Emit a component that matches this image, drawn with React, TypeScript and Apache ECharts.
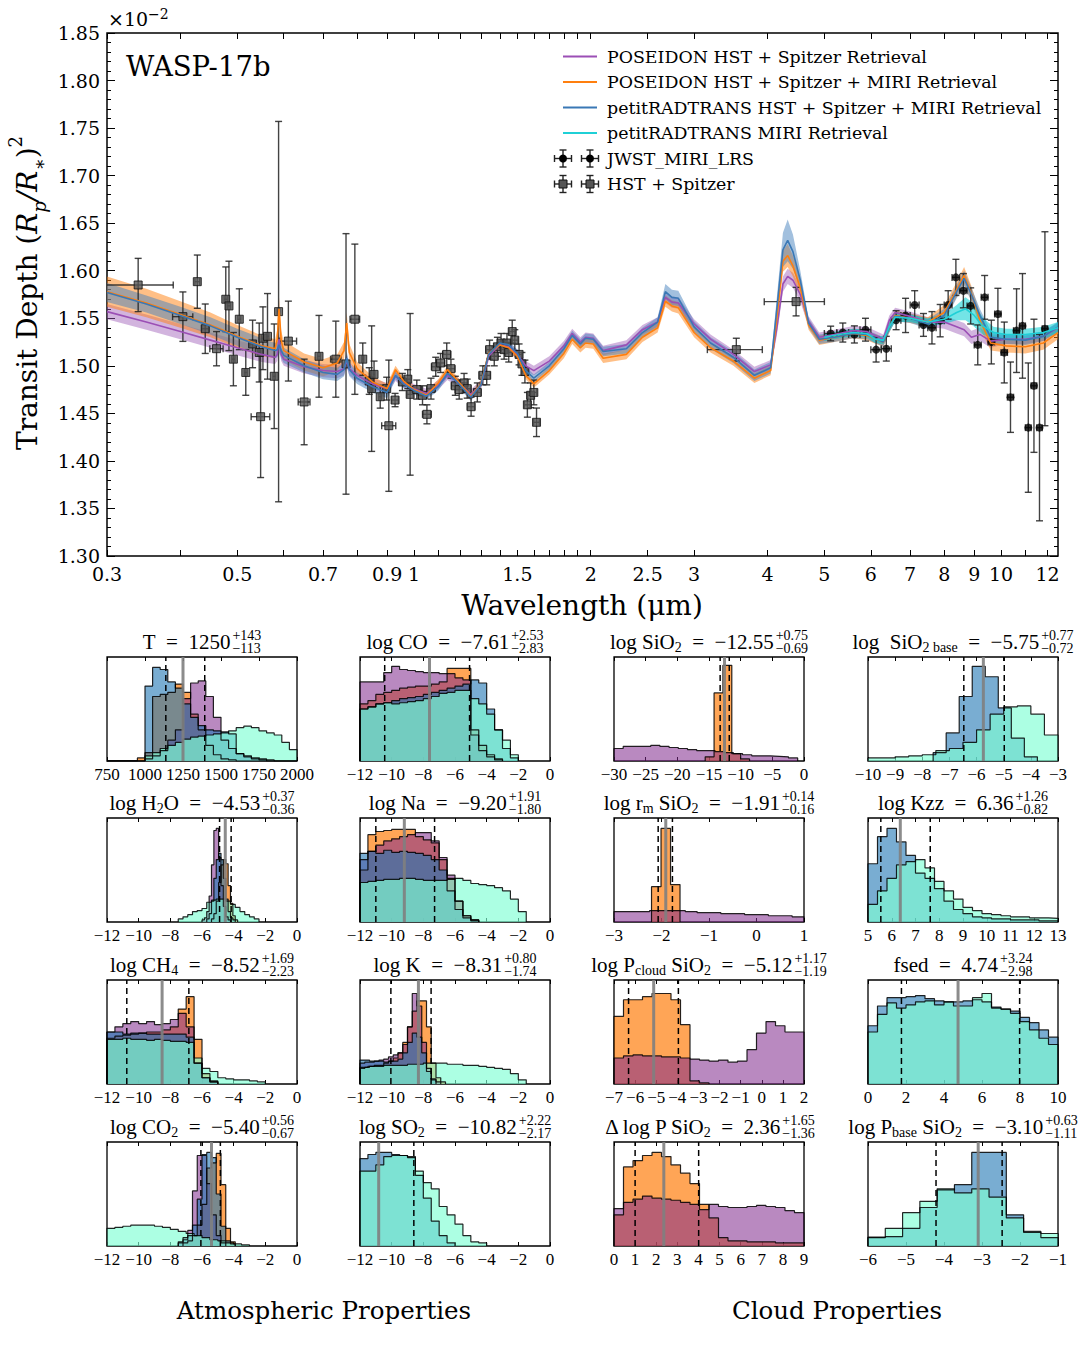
import React, { useEffect, useRef } from 'react';
import * as echarts from 'echarts';

const SERIF = 'DejaVu Serif';
const CM = 'Liberation Serif';

// ---------------- spectrum models (wavelength in micron, transit depth x1e-2) ----------------
const wl = [0.30,0.35,0.40,0.45,0.50,0.55,0.58,0.585,0.589,0.594,0.60,0.65,0.70,0.74,0.76,0.768,0.776,0.80,0.85,0.90,0.93,0.96,1.00,1.05,1.10,1.14,1.18,1.25,1.30,1.34,1.40,1.45,1.50,1.55,1.60,1.70,1.80,1.86,1.92,1.96,2.02,2.10,2.30,2.45,2.60,2.68,2.75,2.82,3.00,3.20,3.50,3.80,4.05,4.15,4.25,4.33,4.42,4.55,4.70,4.90,5.20,5.60,5.90,6.30,6.45,6.60,7.00,7.50,8.00,8.40,8.65,8.90,9.20,9.60,10.2,11.0,11.8,12.5];
const blueMed = [1.577,1.565,1.553,1.542,1.530,1.520,1.516,1.517,1.522,1.516,1.511,1.500,1.493,1.491,1.496,1.508,1.496,1.487,1.478,1.472,1.490,1.481,1.474,1.468,1.478,1.492,1.484,1.467,1.480,1.512,1.524,1.522,1.513,1.495,1.487,1.500,1.518,1.532,1.523,1.529,1.528,1.515,1.518,1.535,1.546,1.578,1.572,1.571,1.541,1.524,1.509,1.490,1.498,1.560,1.622,1.632,1.620,1.590,1.545,1.528,1.530,1.534,1.533,1.525,1.540,1.552,1.550,1.544,1.553,1.578,1.592,1.575,1.553,1.530,1.528,1.527,1.531,1.541];
const orangeMed = [1.578,1.566,1.554,1.543,1.531,1.521,1.518,1.528,1.560,1.527,1.516,1.504,1.498,1.503,1.516,1.545,1.514,1.497,1.483,1.476,1.496,1.484,1.475,1.469,1.482,1.496,1.486,1.468,1.481,1.513,1.522,1.519,1.510,1.490,1.481,1.495,1.513,1.528,1.519,1.524,1.523,1.508,1.512,1.530,1.540,1.568,1.563,1.561,1.535,1.519,1.505,1.487,1.495,1.550,1.610,1.616,1.605,1.582,1.543,1.527,1.530,1.534,1.532,1.525,1.540,1.553,1.550,1.546,1.556,1.580,1.595,1.576,1.548,1.524,1.521,1.520,1.524,1.535];
const purpleMed = [1.557,1.546,1.536,1.527,1.519,1.512,1.509,1.512,1.528,1.512,1.507,1.499,1.495,1.494,1.497,1.505,1.497,1.490,1.481,1.476,1.489,1.482,1.476,1.471,1.480,1.490,1.484,1.470,1.480,1.510,1.522,1.520,1.512,1.500,1.495,1.505,1.521,1.534,1.525,1.530,1.529,1.516,1.522,1.538,1.546,1.572,1.567,1.566,1.544,1.528,1.512,1.494,1.501,1.540,1.586,1.594,1.590,1.575,1.547,1.530,1.533,1.537,1.536,1.528,1.548,1.556,1.552,1.546,1.546,1.541,1.538,1.530,1.533,1.526,1.528,1.528,1.531,1.540];
const purpleErr = [.008,.008,.008,.008,.008,.008,.007,.007,.007,.007,.007,.007,.007,.007,.007,.007,.007,.006,.006,.006,.005,.005,.005,.005,.005,.005,.005,.005,.005,.005,.005,.005,.005,.005,.005,.005,.005,.005,.005,.005,.005,.005,.005,.005,.005,.006,.006,.006,.005,.005,.005,.005,.005,.008,.008,.008,.008,.008,.005,.005,.005,.005,.005,.005,.005,.005,.005,.005,.007,.007,.007,.007,.007,.007,.005,.005,.005,.005];
const orangeErr = [.016,.015,.014,.013,.012,.011,.010,.010,.012,.010,.010,.009,.009,.009,.009,.011,.009,.007,.006,.005,.004,.004,.004,.004,.004,.004,.004,.004,.004,.004,.004,.004,.004,.004,.004,.004,.005,.005,.005,.005,.005,.005,.005,.005,.005,.006,.006,.006,.005,.005,.005,.005,.005,.009,.011,.012,.011,.009,.005,.005,.005,.005,.005,.005,.005,.005,.005,.005,.008,.008,.009,.008,.008,.008,.007,.007,.007,.007];
const blueErr = [.010,.009,.009,.009,.009,.009,.008,.008,.008,.008,.008,.007,.007,.007,.007,.007,.007,.006,.006,.006,.004,.004,.004,.004,.004,.004,.004,.004,.004,.004,.004,.004,.004,.004,.004,.004,.005,.005,.005,.005,.005,.005,.005,.005,.005,.008,.008,.008,.006,.006,.006,.006,.006,.012,.018,.022,.018,.010,.005,.005,.005,.005,.005,.005,.005,.005,.005,.005,.007,.007,.008,.007,.007,.007,.005,.005,.005,.005];
const wlMiri = [5.0,5.3,5.6,5.9,6.1,6.3,6.45,6.6,7.0,7.5,8.0,8.4,8.7,9.0,9.3,9.7,10.2,11.0,11.8,12.5];
const cyanMed = [1.530,1.533,1.535,1.534,1.528,1.527,1.541,1.551,1.550,1.546,1.549,1.556,1.560,1.553,1.542,1.535,1.533,1.533,1.535,1.540];
const cyanErr = [0.004,0.004,0.004,0.004,0.004,0.004,0.005,0.005,0.004,0.004,0.005,0.008,0.012,0.012,0.009,0.006,0.006,0.006,0.006,0.006];

// ---------------- observations ----------------
const hstWl = [0.339,0.404,0.4275,0.441,0.461,0.478,0.484,0.4925,0.504,0.517,0.531,0.545,0.548,0.553,0.563,0.578,0.588,0.611,0.650,0.689,0.736,0.766,0.793,0.818,0.839,0.847,0.855,0.876,0.8985,0.906,0.9285,0.9555,0.976,0.985,1.011,1.034,1.052,1.069,1.089,1.110,1.137,1.156,1.176,1.194,1.217,1.232,1.251,1.282,1.310,1.330,1.345,1.370,1.387,1.407,1.424,1.440,1.450,1.470,1.485,1.510,1.527,1.545,1.560,1.580,1.600,1.617,3.54,4.475];
const hstDepth = [1.585,1.5517,1.5885,1.539,1.518,1.570,1.563,1.507,1.549,1.493,1.523,1.514,1.4465,1.529,1.531,1.489,1.557,1.526,1.462,1.510,1.507,1.502,1.549,1.507,1.484,1.476,1.491,1.4675,1.476,1.437,1.464,1.483,1.486,1.470,1.475,1.469,1.449,1.476,1.499,1.503,1.512,1.497,1.479,1.475,1.482,1.476,1.457,1.472,1.490,1.490,1.517,1.510,1.520,1.524,1.517,1.524,1.514,1.536,1.527,1.512,1.502,1.494,1.459,1.469,1.472,1.4406,1.517,1.5675];
const hstErr = [0.028,0.026,0.028,0.026,0.018,0.034,0.047,0.028,0.032,0.024,0.025,0.031,0.064,0.033,0.045,0.055,0.200,0.042,0.045,0.043,0.040,0.137,0.079,0.017,0.014,0.066,0.014,0.012,0.012,0.069,0.007,0.009,0.010,0.085,0.010,0.010,0.010,0.011,0.010,0.010,0.012,0.010,0.010,0.010,0.010,0.010,0.010,0.010,0.010,0.010,0.010,0.010,0.010,0.010,0.010,0.010,0.010,0.012,0.011,0.011,0.012,0.012,0.013,0.013,0.013,0.015,0.012,0.015];
const hstWlErr = [0.05,0.016,0.004,0.006,0.012,0.003,0.003,0.003,0.003,0.003,0.006,0.003,0.02,0.003,0.003,0.003,0.003,0.02,0.015,0.004,0.015,0.003,0.015,0.003,0.004,0.003,0.003,0.005,0.004,0.025,0.012,0.012,0.012,0.012,0.018,0.018,0.018,0.018,0.018,0.018,0.018,0.018,0.018,0.018,0.018,0.018,0.018,0.018,0.018,0.018,0.018,0.018,0.018,0.018,0.018,0.018,0.018,0.018,0.018,0.018,0.018,0.018,0.018,0.018,0.018,0.018,0.38,0.525];
const miriWl = [5.125,5.375,5.625,5.875,6.125,6.375,6.625,6.875,7.125,7.375,7.625,7.875,8.125,8.375,8.625,8.875,9.125,9.375,9.625,9.875,10.125,10.375,10.625,10.875,11.125,11.375,11.625,11.875];
const miriDepth = [1.534,1.535,1.533,1.538,1.517,1.518,1.548,1.553,1.564,1.543,1.540,1.5475,1.564,1.593,1.579,1.563,1.522,1.572,1.525,1.5545,1.514,1.467,1.537,1.542,1.435,1.479,1.435,1.539];
const miriErr = [0.0077,0.010,0.009,0.012,0.013,0.013,0.010,0.018,0.015,0.012,0.017,0.017,0.015,0.019,0.018,0.019,0.021,0.023,0.023,0.027,0.032,0.037,0.044,0.055,0.068,0.070,0.098,0.102];
const miriWlErr = [0.125,0.125,0.125,0.125,0.125,0.125,0.125,0.125,0.125,0.125,0.125,0.125,0.125,0.125,0.125,0.125,0.125,0.125,0.125,0.125,0.125,0.125,0.125,0.125,0.125,0.125,0.125,0.125];

// ---------------- axis tick values ----------------
const xLabelVals = [0.3,0.5,0.7,0.9,1,1.5,2,2.5,3,4,5,6,7,8,9,10,12];
const xTickVals = [0.3,0.4,0.5,0.6,0.7,0.8,0.9,1,1.1,1.2,1.3,1.4,1.5,1.6,1.7,1.8,1.9,2,2.5,3,4,5,6,7,8,9,10,11,12];

// ---------------- posterior panels ----------------
const panelLabels = ['{m|T}','{m|log CO}','{m|log SiO}{s|2}','{m|log  SiO}{s|2 base}','{m|log H}{s|2}{m|O}','{m|log Na}','{m|log r}{s|m}{m| SiO}{s|2}','{m|log Kzz}','{m|log CH}{s|4}','{m|log K}','{m|log P}{s|cloud}{m| SiO}{s|2}','{m|fsed}','{m|log CO}{s|2}','{m|log SO}{s|2}','{m|Δ log P SiO}{s|2}','{m|log P}{s|base}{m| SiO}{s|2}'];
const medians = [1250,-7.61,-12.55,-5.75,-4.53,-9.20,-1.91,6.36,-8.52,-8.31,-5.12,4.74,-5.40,-10.82,2.36,-3.10];
const plusErr = [143,2.53,0.75,0.77,0.37,1.91,0.14,1.26,1.69,0.80,1.17,3.24,0.56,2.22,1.65,0.63];
const minusErr = [113,2.83,0.69,0.72,0.36,1.80,0.16,0.82,2.23,1.74,1.19,2.98,0.67,2.17,1.36,1.11];
const xMins = [750,-12,-30,-10,-12,-12,-3,5,-12,-12,-7,0,-12,-12,0,-6];
const xMaxs = [2000,0,0,-3,0,0,1,13,0,0,2,10,0,0,9,-1];
const xSteps = [250,2,5,1,2,2,1,1,2,2,1,2,2,2,1,1];

const T_orange = { x0: 750, dx: 50, h: [0,0,0,0,0.03,0.08,0.62,0.64,0.66,0.74,0.66,0.45,0.3,0.15,0.06,0.02,0.01,0,0,0,0,0,0,0,0] };
const T_purple = { x0: 750, dx: 50, h: [0,0,0,0,0,0.02,0.05,0.1,0.2,0.3,0.6,0.75,0.77,0.62,0.42,0.2,0.12,0.07,0.04,0.02,0.01,0,0,0,0] };
const T_blue = { x0: 750, dx: 50, h: [0,0,0,0,0,0.72,0.9,0.88,0.76,0.7,0.55,0.42,0.34,0.3,0.29,0.28,0.26,0.07,0.05,0.03,0.02,0.01,0,0,0] };
const T_aqua = { x0: 750, dx: 50, h: [0,0,0,0,0,0.05,0.08,0.12,0.15,0.18,0.21,0.23,0.24,0.25,0.26,0.27,0.29,0.32,0.335,0.32,0.29,0.27,0.25,0.18,0.11] };
const CO_orange = { x0: -12, dx: 0.5, h: [0.55,0.58,0.64,0.66,0.68,0.7,0.71,0.72,0.72,0.74,0.76,0.89,0.89,0.89,0.3,0.15,0.06,0.02] };
const CO_purple = { x0: -12, dx: 0.5, h: [0.76,0.76,0.76,0.85,0.91,0.88,0.87,0.86,0.85,0.85,0.84,0.84,0.8,0.78,0.25,0.1,0.04,0.01] };
const CO_blue = { x0: -12, dx: 0.5, h: [0.5,0.52,0.55,0.56,0.58,0.6,0.61,0.62,0.64,0.66,0.68,0.7,0.72,0.74,0.78,0.75,0.5,0.3,0.12,0.03] };
const CO_aqua = { x0: -12, dx: 0.5, h: [0.5,0.52,0.55,0.56,0.55,0.56,0.57,0.58,0.6,0.62,0.65,0.66,0.68,0.68,0.6,0.55,0.45,0.3,0.2,0.06] };
const SiO2_purple = { x0: -30, dx: 1.45, h: [0.12,0.14,0.14,0.14,0.15,0.14,0.13,0.12,0.11,0.1,0.1,0.09,0.08,0.07,0.06,0.05,0.05,0.045,0.04,0.03] };
const SiO2_orange = { x0: -15.6, dx: 1.4, h: [0.04,0.655,0.92,0.07,0.02] };
const SiO2b_blue = { x0: -7.6, dx: 0.48, h: [0.08,0.27,0.62,0.91,0.81,0.51,0.22,0.04] };
const SiO2b_aqua = { x0: -10, dx: 0.5, h: [0.03,0.03,0.04,0.05,0.06,0.1,0.12,0.18,0.3,0.45,0.52,0.53,0.45,0.25] };
const H2O_purple = { x0: -6.0, dx: 0.15, h: [0.02,0.04,0.1,0.25,0.55,0.88,0.9,0.62,0.35,0.15,0.05,0.02] };
const H2O_orange = { x0: -5.4, dx: 0.15, h: [0.03,0.08,0.2,0.38,0.55,0.6,0.56,0.35,0.18,0.06,0.02] };
const H2O_blue = { x0: -5.7, dx: 0.15, h: [0.03,0.08,0.2,0.42,0.6,0.66,0.6,0.42,0.22,0.1,0.04,0.02] };
const H2O_aqua = { x0: -7.5, dx: 0.3, h: [0.03,0.05,0.07,0.1,0.11,0.13,0.19,0.21,0.22,0.22,0.2,0.17,0.14,0.1,0.07,0.05,0.03] };
const Na_orange = { x0: -12, dx: 0.5, h: [0.5,0.84,0.87,0.88,0.89,0.89,0.89,0.82,0.79,0.76,0.6,0.42,0.2,0.06,0.02] };
const Na_purple = { x0: -12, dx: 0.5, h: [0.6,0.68,0.74,0.78,0.8,0.82,0.84,0.86,0.86,0.78,0.62,0.45,0.2,0.06,0.02] };
const Na_blue = { x0: -12, dx: 0.5, h: [0.66,0.68,0.66,0.69,0.67,0.68,0.67,0.66,0.64,0.6,0.5,0.3,0.12,0.04,0.01] };
const Na_aqua = { x0: -12, dx: 0.5, h: [0.38,0.39,0.4,0.41,0.41,0.42,0.42,0.41,0.4,0.4,0.4,0.41,0.42,0.4,0.37,0.36,0.35,0.33,0.3,0.22,0.1] };
const rm_purple = { x0: -3, dx: 0.25, h: [0.1,0.1,0.1,0.11,0.11,0.11,0.1,0.09,0.09,0.08,0.08,0.07,0.07,0.06,0.06,0.05] };
const rm_orange = { x0: -2.21, dx: 0.2, h: [0.34,0.9,0.36] };
const Kzz_blue = { x0: 5, dx: 0.4, h: [0.56,0.82,0.9,0.77,0.64,0.47,0.42,0.32,0.2,0.12,0.08,0.05,0.04,0.03,0.03,0.02,0.02,0.02,0.01,0.01] };
const Kzz_aqua = { x0: 5, dx: 0.4, h: [0.17,0.3,0.42,0.55,0.58,0.6,0.52,0.39,0.3,0.22,0.14,0.11,0.08,0.07,0.06,0.05,0.05,0.04,0.04,0.035] };
const CH4_orange = { x0: -12, dx: 0.5, h: [0.44,0.46,0.47,0.48,0.49,0.5,0.5,0.52,0.55,0.72,0.84,0.43,0.1,0.03] };
const CH4_purple = { x0: -12, dx: 0.5, h: [0.5,0.55,0.58,0.6,0.58,0.6,0.57,0.58,0.62,0.68,0.55,0.2,0.06,0.02] };
const CH4_blue = { x0: -12, dx: 0.5, h: [0.5,0.5,0.48,0.49,0.49,0.48,0.48,0.48,0.48,0.48,0.45,0.2,0.06,0.02] };
const CH4_aqua = { x0: -12, dx: 0.5, h: [0.43,0.43,0.44,0.43,0.43,0.42,0.43,0.42,0.41,0.41,0.4,0.25,0.15,0.12,0.06,0.05,0.04,0.04,0.03,0.02] };
const K_purple = { x0: -12, dx: 0.3, h: [0.2,0.21,0.21,0.22,0.23,0.24,0.26,0.28,0.3,0.38,0.55,0.87,0.75,0.4,0.15,0.05,0.02] };
const K_orange = { x0: -12, dx: 0.3, h: [0.15,0.16,0.17,0.18,0.18,0.2,0.22,0.25,0.3,0.4,0.55,0.7,0.8,0.8,0.55,0.2,0.06,0.02] };
const K_blue = { x0: -12, dx: 0.3, h: [0.23,0.23,0.22,0.22,0.22,0.21,0.22,0.22,0.24,0.3,0.4,0.49,0.45,0.3,0.12,0.04] };
const K_aqua = { x0: -12, dx: 0.5, h: [0.16,0.17,0.17,0.18,0.18,0.18,0.19,0.19,0.2,0.2,0.2,0.19,0.19,0.18,0.18,0.17,0.16,0.15,0.14,0.1,0.04] };
const Pc_orange = { x0: -7, dx: 0.45, h: [0.65,0.81,0.81,0.84,0.87,0.87,0.81,0.57,0.03,0.01] };
const Pc_purple = { x0: -7, dx: 0.45, h: [0.25,0.27,0.28,0.27,0.27,0.26,0.26,0.25,0.24,0.23,0.22,0.23,0.21,0.22,0.33,0.49,0.6,0.56,0.5,0.5] };
const fs_blue = { x0: 0, dx: 0.5, h: [0.56,0.75,0.83,0.83,0.84,0.85,0.82,0.8,0.79,0.79,0.8,0.81,0.79,0.74,0.72,0.7,0.64,0.59,0.52,0.45] };
const fs_aqua = { x0: 0, dx: 0.5, h: [0.5,0.67,0.78,0.73,0.76,0.79,0.8,0.76,0.79,0.75,0.75,0.83,0.87,0.73,0.72,0.68,0.6,0.52,0.44,0.38] };
const CO2_purple = { x0: -7.5, dx: 0.3, h: [0.04,0.08,0.15,0.53,0.87,0.87,0.6,0.3,0.1,0.03] };
const CO2_orange = { x0: -7.2, dx: 0.3, h: [0.03,0.05,0.1,0.2,0.4,0.75,0.8,0.89,0.59,0.17,0.04] };
const CO2_blue = { x0: -7.5, dx: 0.3, h: [0.03,0.06,0.1,0.2,0.45,0.88,0.9,0.85,0.5,0.19,0.05,0.02] };
const CO2_aqua = { x0: -12, dx: 0.5, h: [0.17,0.18,0.19,0.2,0.2,0.2,0.19,0.18,0.16,0.14,0.12,0.1,0.08,0.06,0.05,0.03,0.02,0.01] };
const SO2_blue = { x0: -12, dx: 0.5, h: [0.84,0.88,0.9,0.9,0.88,0.87,0.85,0.68,0.46,0.24,0.1,0.03] };
const SO2_aqua = { x0: -12, dx: 0.5, h: [0.72,0.72,0.78,0.86,0.87,0.87,0.86,0.72,0.61,0.55,0.38,0.3,0.21,0.1,0.04,0.03] };
const dP_orange = { x0: 0, dx: 0.45, h: [0.3,0.76,0.82,0.87,0.9,0.86,0.78,0.7,0.6,0.4,0.27,0.08,0.05,0.05,0.04,0.04,0.04,0.03,0.03,0.03] };
const dP_purple = { x0: 0, dx: 0.45, h: [0.36,0.42,0.45,0.48,0.46,0.45,0.44,0.42,0.4,0.35,0.4,0.38,0.37,0.37,0.38,0.39,0.38,0.37,0.34,0.32] };
const Pb_blue = { x0: -6, dx: 0.455, h: [0.08,0.09,0.17,0.37,0.54,0.59,0.9,0.9,0.3,0.13,0.08] };
const Pb_aqua = { x0: -6, dx: 0.455, h: [0.085,0.17,0.32,0.43,0.55,0.51,0.55,0.47,0.27,0.14,0.12] };

const panelHists: any[] = [
  [[T_orange,'O'],[T_purple,'P'],[T_blue,'B'],[T_aqua,'A']],
  [[CO_orange,'O'],[CO_purple,'P'],[CO_blue,'B'],[CO_aqua,'A']],
  [[SiO2_orange,'O'],[SiO2_purple,'P']],
  [[SiO2b_blue,'B'],[SiO2b_aqua,'A']],
  [[H2O_orange,'O'],[H2O_purple,'P'],[H2O_blue,'B'],[H2O_aqua,'A']],
  [[Na_orange,'O'],[Na_purple,'P'],[Na_blue,'B'],[Na_aqua,'A']],
  [[rm_orange,'O'],[rm_purple,'P']],
  [[Kzz_blue,'B'],[Kzz_aqua,'A']],
  [[CH4_orange,'O'],[CH4_purple,'P'],[CH4_blue,'B'],[CH4_aqua,'A']],
  [[K_orange,'O'],[K_purple,'P'],[K_blue,'B'],[K_aqua,'A']],
  [[Pc_orange,'O'],[Pc_purple,'P']],
  [[fs_blue,'B'],[fs_aqua,'A']],
  [[CO2_orange,'O'],[CO2_purple,'P'],[CO2_blue,'B'],[CO2_aqua,'A']],
  [[SO2_blue,'B'],[SO2_aqua,'A']],
  [[dP_orange,'O'],[dP_purple,'P']],
  [[Pb_blue,'B'],[Pb_aqua,'A']],
];

// ---------------- styling / layout ----------------
const HCOL: any = { P: 'rgba(128,40,140,0.55)', O: 'rgba(255,127,14,0.7)', B: 'rgba(31,119,180,0.6)', A: 'rgba(127,255,212,0.65)' };
const colLeft = [107, 360, 614, 868];
const rowTop = [657, 818, 980, 1142];
const boxW = 190;
const boxH = 104;
const LINE_COL = { P: '#9b4fb5', O: '#ff7f0e', B: '#3a78b5', C: '#1fd0d6' };
const BAND_COL = { P: 'rgba(155,89,182,0.45)', O: 'rgba(255,127,14,0.5)', B: 'rgba(70,130,190,0.5)', C: 'rgba(0,206,209,0.55)' };

const lg = (v: number) => Math.log10(v);
const minus = (s: string) => s.replace('-', '\u2212');
const fmtTick = (v: number) => minus(String(Number(v.toFixed(6))));

function bandSeries(w: number[], med: number[], err: number[], color: string) {
  const data = w.map((x, i) => [lg(x), med[i] - err[i], med[i] + err[i]]);
  return {
    type: 'custom', xAxisIndex: 0, yAxisIndex: 0, silent: true, clip: true, data,
    encode: { x: 0, y: [1, 2] },
    renderItem: (params: any, api: any) => {
      if (params.dataIndex !== 0) return null;
      const top = data.map((d) => api.coord([d[0], d[2]]));
      const bot = data.map((d) => api.coord([d[0], d[1]])).reverse();
      return { type: 'polygon', shape: { points: top.concat(bot) }, style: { fill: color } };
    },
  };
}
function medSeries(w: number[], med: number[], color: string) {
  return {
    type: 'line', xAxisIndex: 0, yAxisIndex: 0, silent: true, symbol: 'none', showSymbol: false,
    data: w.map((x, i) => [lg(x), med[i]]), lineStyle: { color, width: 1.6 },
  };
}
function errSeries(w: number[], d: number[], e: number[], we: number[]) {
  const data = w.map((x, i) => [lg(x), d[i], lg(Math.max(x - we[i], 0.2)), lg(x + we[i]), d[i] - e[i], d[i] + e[i]]);
  return {
    type: 'custom', xAxisIndex: 0, yAxisIndex: 0, silent: true, clip: true, data,
    encode: { x: [0, 2, 3], y: [1, 4, 5] },
    renderItem: (params: any, api: any) => {
      const x = api.value(0), y = api.value(1);
      const pl = api.coord([api.value(2), y]), pr = api.coord([api.value(3), y]);
      const pb = api.coord([x, api.value(4)]), pt = api.coord([x, api.value(5)]);
      const c = 3.5;
      const st = { stroke: '#222', lineWidth: 1.4, opacity: 0.85 };
      const L = (x1: number, y1: number, x2: number, y2: number) => ({ type: 'line', shape: { x1, y1, x2, y2 }, style: st });
      return {
        type: 'group',
        children: [
          L(pb[0], pb[1], pt[0], pt[1]), L(pb[0] - c, pb[1], pb[0] + c, pb[1]), L(pt[0] - c, pt[1], pt[0] + c, pt[1]),
          L(pl[0], pl[1], pr[0], pr[1]), L(pl[0], pl[1] - c, pl[0], pl[1] + c), L(pr[0], pr[1] - c, pr[0], pr[1] + c),
        ],
      };
    },
  };
}
function histSeries(hd: any, key: string, k: number) {
  const pts: number[][] = [[hd.x0, 0]];
  hd.h.forEach((v: number, i: number) => pts.push([hd.x0 + i * hd.dx, v]));
  const xe = hd.x0 + hd.h.length * hd.dx;
  pts.push([xe, hd.h[hd.h.length - 1]], [xe, 0]);
  return {
    type: 'line', xAxisIndex: 2 + 2 * k, yAxisIndex: 2 + k, data: pts, step: 'end', symbol: 'none', showSymbol: false,
    clip: true, silent: true, lineStyle: { color: '#000', width: 1.2, opacity: 0.85 }, areaStyle: { color: HCOL[key], opacity: 1 },
  };
}
function vSeries(x: number, k: number, lineStyle: any) {
  return { type: 'line', xAxisIndex: 2 + 2 * k, yAxisIndex: 2 + k, data: [[x, 0], [x, 1]], symbol: 'none', showSymbol: false, silent: true, clip: true, lineStyle };
}

const titleRich = {
  m: { fontFamily: CM, fontSize: 21, lineHeight: 26, verticalAlign: 'middle', fill: '#000' },
  s: { fontFamily: CM, fontSize: 14, lineHeight: 14, verticalAlign: 'bottom', fill: '#000' },
};
function measure(style: any) {
  const t = new (echarts.graphic as any).Text({ style });
  return t.getBoundingRect().width;
}

function buildOption() {
  const grids: any[] = [{ left: 107, top: 33, width: 951, height: 523, show: true, borderColor: '#000', borderWidth: 1.5 }];
  const xAxes: any[] = [
    {
      type: 'value', gridIndex: 0, position: 'bottom', min: lg(0.3), max: lg(12.5),
      axisLine: { show: false, onZero: false }, splitLine: { show: false },
      axisTick: { inside: true, length: 6, customValues: xTickVals.map(lg), lineStyle: { color: '#000' } },
      axisLabel: { customValues: xLabelVals.map(lg), formatter: (v: number) => String(parseFloat(Math.pow(10, v).toFixed(2))), fontFamily: SERIF, fontSize: 19, color: '#000', margin: 8 },
    },
    {
      type: 'value', gridIndex: 0, position: 'top', min: lg(0.3), max: lg(12.5),
      axisLine: { show: false, onZero: false }, splitLine: { show: false }, axisLabel: { show: false },
      axisTick: { inside: true, length: 6, customValues: xTickVals.map(lg), lineStyle: { color: '#000' } },
    },
  ];
  const yBase = {
    type: 'value', gridIndex: 0, min: 1.3, max: 1.85, interval: 0.05,
    axisLine: { show: false, onZero: false }, splitLine: { show: false },
    axisTick: { inside: true, length: 8, lineStyle: { color: '#000' } },
    minorTick: { show: true, splitNumber: 5, length: 4, lineStyle: { color: '#000' } },
  };
  const yAxes: any[] = [
    { ...yBase, position: 'left', axisLabel: { formatter: (v: number) => v.toFixed(2), fontFamily: SERIF, fontSize: 19, color: '#000', margin: 7, showMinLabel: true, showMaxLabel: true } },
    { ...yBase, position: 'right', axisLabel: { show: false } },
  ];
  const series: any[] = [
    bandSeries(wl, purpleMed, purpleErr, BAND_COL.P),
    bandSeries(wl, orangeMed, orangeErr, BAND_COL.O),
    bandSeries(wl, blueMed, blueErr, BAND_COL.B),
    bandSeries(wlMiri, cyanMed, cyanErr, BAND_COL.C),
    medSeries(wl, purpleMed, LINE_COL.P),
    medSeries(wl, orangeMed, LINE_COL.O),
    medSeries(wl, blueMed, LINE_COL.B),
    medSeries(wlMiri, cyanMed, LINE_COL.C),
    errSeries(hstWl, hstDepth, hstErr, hstWlErr),
    {
      type: 'scatter', xAxisIndex: 0, yAxisIndex: 0, silent: true, symbol: 'rect', symbolSize: 8,
      data: hstWl.map((x, i) => [lg(x), hstDepth[i]]), itemStyle: { color: '#555', borderColor: '#111', borderWidth: 1 },
    },
    errSeries(miriWl, miriDepth, miriErr, miriWlErr),
    {
      type: 'scatter', xAxisIndex: 0, yAxisIndex: 0, silent: true, symbol: 'circle', symbolSize: 8,
      data: miriWl.map((x, i) => [lg(x), miriDepth[i]]), itemStyle: { color: '#000' },
    },
  ];
  const graphics: any[] = [];

  for (let k = 0; k < 16; k++) {
    const r = Math.floor(k / 4), c = k % 4;
    grids.push({ left: colLeft[c], top: rowTop[r], width: boxW, height: boxH, show: true, borderColor: '#000', borderWidth: 1.3 });
    const common = { type: 'value', gridIndex: k + 1, min: xMins[k], max: xMaxs[k], interval: xSteps[k], splitLine: { show: false }, axisLine: { show: false, onZero: false } };
    xAxes.push({
      ...common, position: 'bottom',
      axisTick: { inside: true, length: 4, lineStyle: { color: '#000' } },
      axisLabel: { formatter: fmtTick, fontFamily: CM, fontSize: 17, color: '#000', margin: 5, showMinLabel: true, showMaxLabel: true },
    });
    xAxes.push({ ...common, position: 'top', axisTick: { inside: true, length: 4, lineStyle: { color: '#000' } }, axisLabel: { show: false } });
    yAxes.push({ type: 'value', gridIndex: k + 1, min: 0, max: 1, show: false, axisLine: { onZero: false } });
    panelHists[k].forEach((p: any) => series.push(histSeries(p[0], p[1], k)));
    series.push(vSeries(medians[k], k, { color: '#808080', width: 3, opacity: 0.9 }));
    series.push(vSeries(medians[k] - minusErr[k], k, { color: '#000', width: 1.5, type: [6, 4] }));
    series.push(vSeries(medians[k] + plusErr[k], k, { color: '#000', width: 1.5, type: [6, 4] }));

    const dec = k === 0 ? 0 : 2;
    const main = panelLabels[k] + '{m|\u2002=\u2002' + minus(medians[k].toFixed(dec)) + '}';
    const scr = '+' + plusErr[k].toFixed(dec) + '\n\u2212' + minusErr[k].toFixed(dec);
    const mainStyle = { text: main, rich: titleRich, fontFamily: CM, fontSize: 21, fill: '#000', align: 'right', verticalAlign: 'middle' };
    const scrStyle = { text: scr, fontFamily: CM, fontSize: 14, lineHeight: 12.5, fill: '#000', align: 'left', verticalAlign: 'middle' };
    const mw = measure(mainStyle), sw = measure(scrStyle);
    const cx = colLeft[c] + boxW / 2;
    const ty = rowTop[r] - 15.5;
    const left = cx - (mw + 2 + sw) / 2;
    graphics.push({ type: 'text', x: left + mw, y: ty, style: mainStyle });
    graphics.push({ type: 'text', x: left + mw + 2, y: ty + 0.5, style: scrStyle });
  }

  // main-plot annotations
  graphics.push({ type: 'text', x: 126, y: 66, style: { text: 'WASP-17b', fontFamily: SERIF, fontSize: 27.5, fill: '#000', verticalAlign: 'middle' } });
  graphics.push({
    type: 'text', x: 108, y: 19,
    style: {
      text: '{a|\u00d710}{b|\u22122}', verticalAlign: 'middle', fill: '#000',
      rich: { a: { fontFamily: SERIF, fontSize: 19, lineHeight: 24, verticalAlign: 'middle' }, b: { fontFamily: SERIF, fontSize: 14, lineHeight: 14, verticalAlign: 'top' } },
    },
  });
  graphics.push({ type: 'text', x: 582, y: 605, style: { text: 'Wavelength (\u03bcm)', fontFamily: SERIF, fontSize: 28, fill: '#000', align: 'center', verticalAlign: 'middle' } });
  graphics.push({
    type: 'text', x: 27, y: 293, rotation: Math.PI / 2,
    style: {
      text: '{a|Transit Depth }{a|(}{i|R}{b|p}{i|/R}{b|\u2217}{a|)}{c|2}', align: 'center', verticalAlign: 'middle', fill: '#000',
      rich: {
        a: { fontFamily: SERIF, fontSize: 28, lineHeight: 42, verticalAlign: 'middle' },
        i: { fontFamily: SERIF, fontSize: 28, fontStyle: 'italic', lineHeight: 42, verticalAlign: 'middle' },
        b: { fontFamily: SERIF, fontSize: 18, fontStyle: 'italic', lineHeight: 23, verticalAlign: 'bottom' },
        c: { fontFamily: SERIF, fontSize: 18, lineHeight: 23, verticalAlign: 'top' },
      },
    },
  });
  graphics.push({ type: 'text', x: 324, y: 1310, style: { text: 'Atmospheric Properties', fontFamily: SERIF, fontSize: 24.5, fill: '#000', align: 'center', verticalAlign: 'middle' } });
  graphics.push({ type: 'text', x: 837, y: 1310, style: { text: 'Cloud Properties', fontFamily: SERIF, fontSize: 24.5, fill: '#000', align: 'center', verticalAlign: 'middle' } });

  // legend
  const legendNames = ['POSEIDON HST + Spitzer Retrieval', 'POSEIDON HST + Spitzer + MIRI Retrieval', 'petitRADTRANS HST + Spitzer + MIRI Retrieval', 'petitRADTRANS MIRI Retrieval', 'JWST_MIRI_LRS', 'HST + Spitzer'];
  const legendY = [56.5, 82, 107.5, 133, 158.5, 184];
  const legendLine = [LINE_COL.P, LINE_COL.O, LINE_COL.B, LINE_COL.C];
  legendNames.forEach((name, i) => {
    const y = legendY[i];
    if (i < 4) {
      graphics.push({ type: 'line', shape: { x1: 563, y1: y, x2: 597, y2: y }, style: { stroke: legendLine[i], lineWidth: 2 } });
    } else {
      [563, 590].forEach((mx) => {
        const st = { stroke: '#222', lineWidth: 1.4 };
        graphics.push({ type: 'line', shape: { x1: mx - 8.5, y1: y, x2: mx + 8.5, y2: y }, style: st });
        graphics.push({ type: 'line', shape: { x1: mx, y1: y - 8.5, x2: mx, y2: y + 8.5 }, style: st });
        graphics.push({ type: 'line', shape: { x1: mx - 8.5, y1: y - 3.5, x2: mx - 8.5, y2: y + 3.5 }, style: st });
        graphics.push({ type: 'line', shape: { x1: mx + 8.5, y1: y - 3.5, x2: mx + 8.5, y2: y + 3.5 }, style: st });
        graphics.push({ type: 'line', shape: { x1: mx - 3.5, y1: y - 8.5, x2: mx + 3.5, y2: y - 8.5 }, style: st });
        graphics.push({ type: 'line', shape: { x1: mx - 3.5, y1: y + 8.5, x2: mx + 3.5, y2: y + 8.5 }, style: st });
        if (i === 4) graphics.push({ type: 'circle', shape: { cx: mx, cy: y, r: 4 }, style: { fill: '#000' } });
        else graphics.push({ type: 'rect', shape: { x: mx - 4, y: y - 4, width: 8, height: 8 }, style: { fill: '#555', stroke: '#111', lineWidth: 1 } });
      });
    }
    graphics.push({ type: 'text', x: 607, y, style: { text: name, fontFamily: SERIF, fontSize: 17.4, fill: '#000', verticalAlign: 'middle' } });
  });

  return {
    animation: false,
    backgroundColor: '#fff',
    textStyle: { fontFamily: SERIF },
    grid: grids,
    xAxis: xAxes,
    yAxis: yAxes,
    series,
    graphic: graphics,
  };
}

export default function App() {
  const ref = useRef<HTMLDivElement>(null);
  useEffect(() => {
    if (!ref.current) return;
    const chart = echarts.init(ref.current, null, { renderer: 'svg' });
    chart.setOption(buildOption() as any);
    return () => chart.dispose();
  }, []);
  return <div ref={ref} style={{ position: 'absolute', left: 0, top: 0, width: 1088, height: 1372, background: '#fff' }} />;
}
